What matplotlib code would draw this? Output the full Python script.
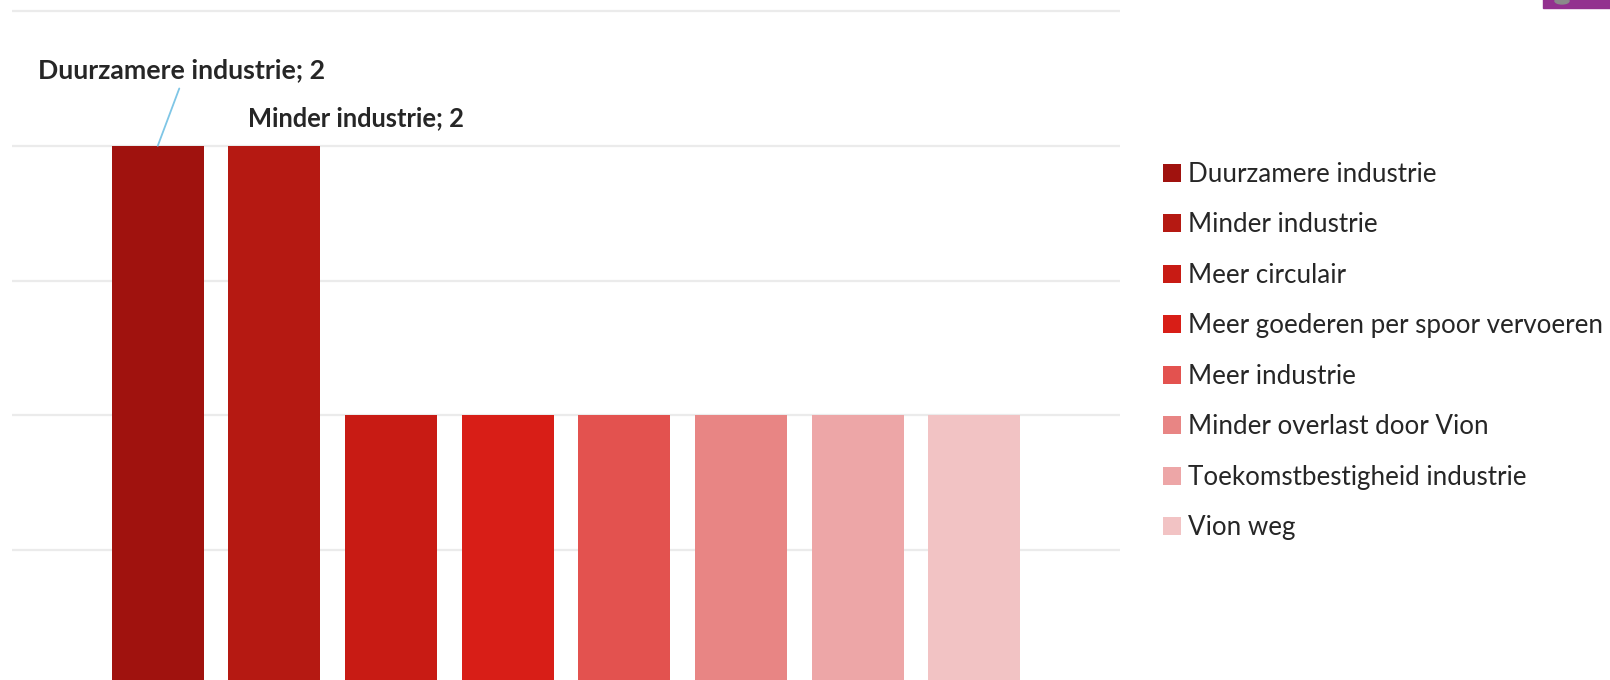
import matplotlib
matplotlib.use("Agg")
import matplotlib.pyplot as plt
from matplotlib.patches import Rectangle, Circle

categories = [
    "Duurzamere industrie",
    "Minder industrie",
    "Meer circulair",
    "Meer goederen per spoor vervoeren",
    "Meer industrie",
    "Minder overlast door Vion",
    "Toekomstbestigheid industrie",
    "Vion weg",
]
values = [2, 2, 1, 1, 1, 1, 1, 1]
colors = ["#A0120E", "#B51912", "#C81B14", "#D81E17",
          "#E3524F", "#E88584", "#EDA6A7", "#F2C3C4"]
gridticks = [0.5, 1.0, 1.5, 2.0, 2.5]

plt.rcParams["font.family"] = ["Lato", "DejaVu Sans"]

W, H = 1610, 680
fig = plt.figure(figsize=(W / 100, H / 100), dpi=100)
fig.patch.set_facecolor("white")

# axes: left 12px, right 1120px, top gridline (2.5) at y=11, zero at y=685
px_per_unit = 270.0
top_lim = 2.5 + 11 / px_per_unit
ax = fig.add_axes([12 / W, -5 / H, 1108 / W, 685 / H])
ax.set_xlim(-1.25, 8.25)
ax.set_ylim(0, top_lim)

xs = list(range(len(categories)))
bars = ax.bar(xs, values, width=0.79, color=colors, zorder=3)
for b, c in zip(bars, categories):
    b.set_label(c)

ax.set_yticks(gridticks)
ax.yaxis.grid(True, color="#EBEBEB", linewidth=1.6, zorder=0)
ax.set_axisbelow(True)
ax.tick_params(left=False, bottom=False, labelleft=False, labelbottom=False)
for s in ax.spines.values():
    s.set_visible(False)

# data labels
ax.annotate(f"{categories[0]}; {values[0]}", xy=(xs[0], values[0]),
            xytext=(24, 76), textcoords="offset pixels",
            ha="center", va="center", fontsize=19.2, fontweight="bold",
            color="#262626",
            arrowprops=dict(arrowstyle="-", color="#7FC6E6", lw=1.3,
                            relpos=(0.5, 0.0), shrinkA=3, shrinkB=0))
ax.annotate(f"{categories[1]}; {values[1]}", xy=(xs[1], values[1]),
            xytext=(-26, 28), textcoords="offset pixels",
            ha="left", va="center", fontsize=18.4, fontweight="bold",
            color="#262626")

# legend
leg = fig.legend(handles=list(bars), labels=categories,
                 loc="upper left", bbox_to_anchor=(1163 / W, 1 - 162 / H),
                 frameon=False, fontsize=18.7, labelcolor="#262626",
                 handlelength=0.68, handleheight=0.68, handletextpad=0.28,
                 labelspacing=0.98, borderaxespad=0, borderpad=0)

# partial logo in the top right corner
fig.patches.append(Rectangle((1543 / W, 1 - 8 / H), 70 / W, 9 / H,
                             transform=fig.transFigure, color="#93318F"))
fig.patches.append(Circle((1562 / W, 1 - 1 / H), 7 / W,
                          transform=fig.transFigure, color="#8A8A8A"))

fig.savefig("out.png", dpi=100, facecolor="white")
